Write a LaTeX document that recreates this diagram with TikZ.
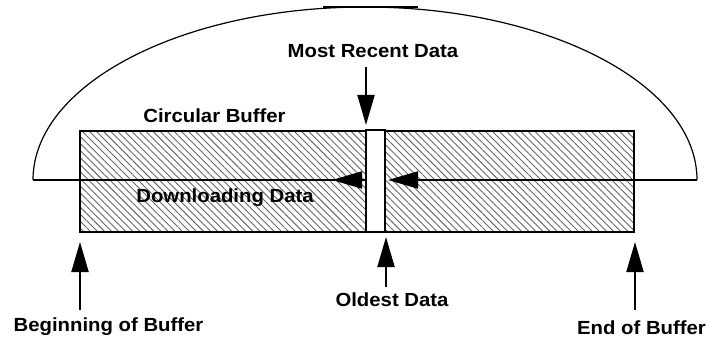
\documentclass[tikz,border=0pt]{standalone}
\usepackage{fontspec}
\setmainfont[FakeStretch=1.07]{Liberation Sans}
\usetikzlibrary{arrows.meta,patterns.meta}
\begin{document}
\begin{tikzpicture}[x=1pt,y=-1pt,
  lab/.style={font=\fontsize{19}{20}\selectfont\bfseries, inner sep=0pt, anchor=base},
  buf/.style={draw, line width=2pt, inner sep=0pt,
    pattern={Lines[angle=-45,distance=5pt,line width=0.9pt]}, pattern color=black!60},
  gapbox/.style={draw, line width=2pt, inner sep=0pt, fill=white},
  ptr/.style={line width=2pt, -{Triangle[length=30pt,width=17pt]}},
  thin/.style={line width=1.2pt}]
\useasboundingbox (0,0) rectangle (709,339);
% buffer boxes
\node[buf, minimum width=286pt, minimum height=101pt] (left) at (223,181.5) {};
\node[buf, minimum width=249pt, minimum height=101pt] (right) at (509.5,181.5) {};
\node[gapbox, minimum width=19pt, minimum height=102pt] (gap) at (375.5,181) {};
% big arc and flow line
\coordinate (aL) at (33,180);
\coordinate (aR) at (697,180);
\draw[thin] (aL) arc[start angle=180, end angle=360, x radius=332, y radius=173];
\draw[line width=2.2pt] (323,7) -- (418,7);
\draw[line width=2pt] (aL) -- (gap.west |- aL);
\draw[ptr] (gap.west |- aL) -- (332,180);
\draw[ptr] (aR) -- (388,180);
% labels
\node[lab] (mrd) at (373,58) {Most Recent Data};
\node[lab] (cb) at (214.5,123) {Circular Buffer};
\node[lab] (dd) at (225,202) {Downloading Data};
\node[lab] (od) at (392,306) {Oldest Data};
\node[lab] (bob) at (108.5,331) {Beginning of Buffer};
\node[lab] (eob) at (641.5,334) {End of Buffer};
% pointer arrows
\coordinate (mrdS) at (366,67);
\coordinate (odS) at (386,287);
\coordinate (bobS) at (80,310);
\coordinate (eobS) at (635,310);
\draw[ptr] (mrdS) -- (366,125);
\draw[ptr] (odS) -- (386,237);
\draw[ptr] (bobS) -- (80,242);
\draw[ptr] (eobS) -- (635,242);
\end{tikzpicture}
\end{document}
